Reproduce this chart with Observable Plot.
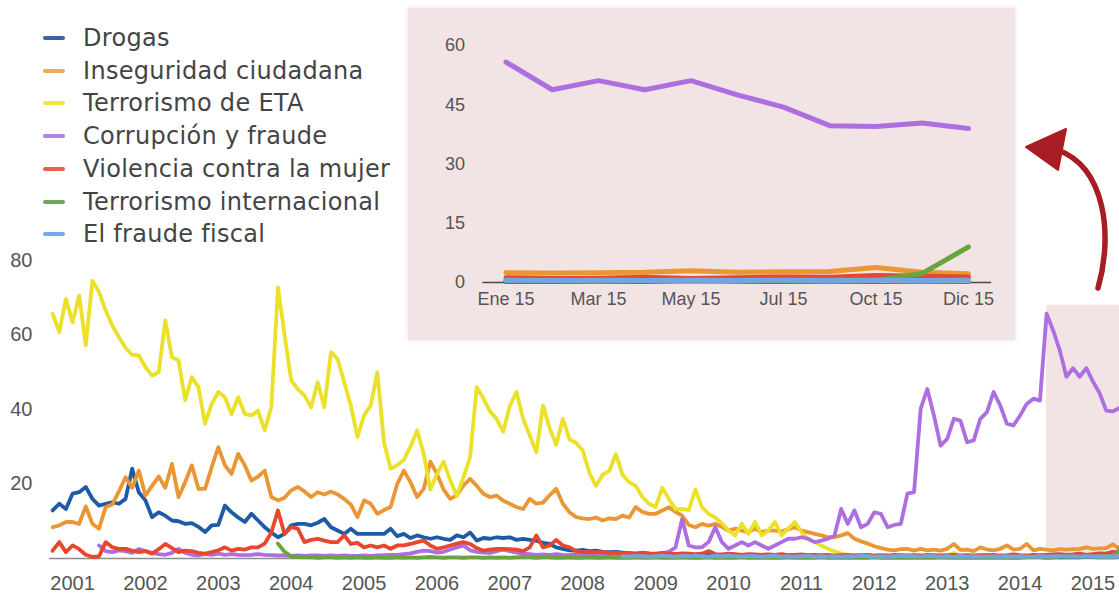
<!DOCTYPE html>
<html>
<head>
<meta charset="utf-8">
<script src="https://cdn.jsdelivr.net/npm/d3@7"></script>
<script src="https://cdn.jsdelivr.net/npm/@observablehq/plot@0.6"></script>
<style>
  html, body { margin: 0; padding: 0; background: #fff; overflow: hidden; width: 1119px; height: 596px; }
  #wrap { position: relative; width: 1119px; height: 596px; overflow: hidden; }
  #main { position: absolute; left: 0; top: 0; }
  #inset { position: absolute; left: 408px; top: 8px; width: 607px; height: 332px; box-shadow: 0 0 5px rgba(200,170,170,0.35); }
  #legend { position: absolute; left: 0; top: 0; font-family: "DejaVu Sans", "Liberation Sans", sans-serif; font-size: 24px; color: #444; }
  .item { position: absolute; left: 43px; height: 30px; line-height: 30px; white-space: nowrap; }
  .sw { position: absolute; left: 0; top: 13px; width: 22px; height: 4px; border-radius: 2px; }
  .lb { position: absolute; left: 40px; top: 0; letter-spacing: 0.3px; }
  #arrow { position: absolute; left: 0; top: 0; pointer-events: none; }
</style>
</head>
<body>
<div id="wrap">
  <div id="main"></div>
  <div id="inset"></div>
  <div id="legend"></div>
  <svg id="arrow" width="1119" height="596"></svg>
</div>
<script>
// Meses del barómetro (sin agosto)
const meses = ["Ene","Feb","Mar","Abr","May","Jun","Jul","Sep","Oct","Nov","Dic"];
const anios = [2001,2002,2003,2004,2005,2006,2007,2008,2009,2010,2011,2012,2013,2014,2015];
const series = ["Drogas","Inseguridad ciudadana","Terrorismo de ETA","Corrupción y fraude","Violencia contra la mujer","Terrorismo internacional","El fraude fiscal"];
const colores = ["#1f5aa6","#ea9633","#ebe12a","#ad6ee0","#e8472d","#67a63c","#72a5e3"];
const coloresLeyenda = ["#3a63a6","#f2ac55","#f0e640","#b382e6","#e95f47","#6ea860","#7aa7e6"];
const inicio = ["Mar 2001","Mar 2001","Mar 2001","Nov 2001","Mar 2001","Abr 2004","Ene 2009"];

const drogas = [
  12.9,14.7,13.3,17.4,17.8,19.2,16.0,14.2,14.7,
  15.1,14.7,16.0,24.1,17.8,15.6,11.1,12.4,11.5,10.2,10.0,
  9.3,9.5,8.5,7.1,8.9,9.0,14.2,12.4,11.0,9.8,12.0,
  10.2,8.4,7.0,5.7,6.6,8.9,9.3,9.3,8.9,9.6,10.6,
  8.4,7.5,6.6,8.0,6.6,6.6,6.6,6.6,6.6,8.0,6.0,
  6.6,5.5,6.2,5.7,5.3,5.7,5.3,5.0,6.2,5.7,7.0,
  4.8,5.5,5.3,5.7,5.5,5.7,5.0,5.3,5.0,4.8,4.2,
  3.9,3.0,2.6,2.2,2.1,2.3,2.0,2.1,1.8,1.7,1.8,
  1.6,1.4,1.3,1.5,1.3,1.2,1.3,1.1,1.2,1.0,1.1,
  1.0,0.9,1.1,0.9,1.0,0.8,0.9,0.8,1.0,0.8,0.9,
  0.8,0.9,0.7,0.8,0.8,0.7,0.8,0.7,0.7,0.8,0.6,
  0.7,0.6,0.7,0.6,0.6,0.5,0.6,0.5,0.6,0.5,0.5,
  0.5,0.6,0.5,0.4,0.5,0.6,0.5,0.4,0.5,0.5,0.4,
  0.5,0.4,0.5,0.4,0.3,0.4,0.5,0.4,0.4,0.3,0.4,
  0.3,0.3,0.4,0.3,0.5,0.4,0.3,0.4,0.3,0.4,0.3
];
const inseguridad = [
  8.4,8.9,9.8,9.8,9.3,14.0,9.3,8.0,13.8,
  14.5,18.0,21.8,19.0,23.6,16.9,19.5,22.0,19.0,25.4,16.5,
  20.5,25.0,18.7,18.7,24.5,29.9,25.0,22.7,28.1,25.0,20.9,
  22.0,23.6,16.5,15.6,16.3,18.3,19.2,18.0,16.5,17.8,17.2,
  18.0,17.2,16.0,14.5,11.1,15.6,14.7,12.0,13.0,13.8,20.0,
  23.6,20.5,16.5,18.7,26.0,22.7,18.5,16.0,17.0,19.6,21.4,
  19.5,17.4,16.5,16.9,15.5,14.7,13.8,13.3,16.0,14.7,15.0,
  17.0,18.7,14.7,12.4,11.1,10.8,10.6,11.0,10.2,10.8,10.6,
  11.5,11.0,13.8,12.5,12.0,12.0,12.9,13.8,12.5,11.5,9.0,
  8.4,9.3,8.8,9.3,8.5,7.5,8.0,7.5,7.1,8.0,7.1,
  7.5,7.5,7.3,7.8,8.4,7.5,7.1,6.6,6.2,5.7,5.7,
  6.2,6.8,5.3,4.6,4.0,3.3,2.8,2.4,2.2,2.5,2.6,
  2.1,2.6,2.2,2.4,2.1,2.6,3.9,2.3,2.4,2.0,3.0,
  2.4,2.2,2.6,3.5,2.4,2.6,3.9,2.2,2.6,2.4,2.2,
  2.5,2.4,2.5,2.6,3.0,2.6,2.7,2.8,3.8,2.6,2.2
];
const eta = [
  65.7,60.8,69.7,63.4,70.6,57.2,74.6,71.5,66.6,
  62.6,59.4,56.5,54.7,54.5,51.4,49.1,50.0,63.9,54.0,53.2,
  42.5,48.7,46.0,36.2,41.5,44.7,43.3,38.8,43.3,38.8,38.4,
  39.7,34.4,40.6,72.8,60.0,47.8,45.5,43.8,40.6,47.3,40.6,
  55.4,53.6,47.3,41.1,32.6,38.4,41.1,50.0,31.2,24.1,25.0,
  26.5,30.0,34.4,28.1,18.5,22.7,26.0,21.0,16.8,21.8,27.2,
  46.0,43.0,39.5,37.5,34.0,41.0,44.7,37.5,33.0,28.5,41.1,
  35.0,30.5,37.5,32.0,31.0,29.0,23.0,19.5,22.5,23.5,28.0,
  22.5,20.5,19.5,16.5,14.7,13.8,19.0,16.0,13.2,13.3,13.0,
  18.5,13.8,12.0,11.0,9.5,7.5,6.2,9.3,6.6,9.8,6.2,
  7.5,9.8,6.2,8.0,9.8,7.1,5.2,4.4,3.5,2.6,1.9,
  1.3,1.0,0.9,0.8,0.8,0.7,0.7,0.6,0.6,0.6,0.5,
  0.6,0.5,0.5,0.5,0.6,0.8,1.5,0.5,0.5,0.4,0.5,
  0.4,0.5,0.4,0.4,0.5,0.4,0.4,0.5,0.4,0.4,0.3,
  0.8,0.6,0.7,0.6,0.8,0.6,0.5,0.6,0.5,0.6,0.5
];
const corrupcion = [
  3.5,2.0,
  1.7,2.2,2.0,1.5,2.5,2.0,1.5,1.2,1.0,1.5,2.6,
  1.5,1.0,0.8,1.2,1.0,1.3,1.0,1.2,1.0,0.9,1.0,
  1.2,1.0,0.9,0.8,0.8,0.7,0.8,0.7,0.8,0.8,0.7,
  0.8,0.7,0.8,0.7,0.7,0.8,0.7,0.8,0.9,1.0,1.0,
  1.2,1.4,1.8,2.1,2.0,1.6,1.8,2.4,3.0,3.5,2.2,
  1.8,1.6,1.5,2.0,2.4,2.0,1.6,1.3,1.2,1.0,1.1,
  1.0,1.2,1.0,0.9,1.1,1.0,0.9,1.0,1.1,1.0,1.2,
  1.0,1.2,1.1,1.3,1.2,1.0,1.4,1.8,3.0,10.6,3.5,
  3.0,3.0,4.4,8.4,4.4,2.6,3.5,4.4,3.5,4.4,3.5,
  2.6,3.5,4.4,5.3,5.3,5.7,5.3,4.4,4.8,5.3,6.2,
  13.3,9.3,12.9,8.4,9.3,12.4,12.0,8.4,9.0,9.3,17.4,
  17.8,40.2,45.5,38.4,30.3,32.1,37.5,37.0,31.2,31.7,37.5,
  39.3,44.7,41.1,36.2,35.7,38.4,41.5,42.9,42.4,65.7,61.2,
  55.8,48.8,51.1,48.8,51.1,47.5,44.4,39.7,39.5,40.4,39.0
];
const violencia = [
  2.1,4.4,1.7,3.5,2.5,1.0,0.4,0.6,4.4,
  3.0,2.6,2.6,2.1,1.7,2.0,1.3,2.5,3.9,2.8,1.7,
  2.1,2.0,1.5,1.3,1.7,2.2,3.0,2.1,2.6,2.4,3.0,
  3.0,4.0,7.0,12.9,6.6,8.4,8.0,4.4,5.0,5.3,4.8,
  4.4,4.4,6.2,3.9,4.2,3.0,3.5,3.0,3.5,2.6,3.5,
  3.5,3.9,4.4,4.8,3.5,2.6,3.0,3.5,4.0,4.4,3.9,
  2.8,2.1,2.4,2.6,2.6,2.5,2.4,2.0,3.0,6.2,3.0,
  3.5,5.0,3.5,3.0,2.0,1.7,1.8,1.7,1.7,1.5,1.6,
  1.4,1.5,1.3,1.6,1.4,1.3,1.5,1.3,1.2,1.4,1.3,
  1.2,1.3,2.0,1.2,1.1,1.3,1.2,1.0,1.2,1.1,1.0,
  1.1,1.0,1.2,0.9,1.0,1.1,0.9,1.0,0.9,1.0,0.8,
  0.9,1.0,0.8,0.9,1.0,0.8,0.9,0.8,1.0,0.9,0.8,
  0.9,0.8,1.0,0.9,0.8,0.9,1.0,0.8,0.9,0.8,0.9,
  0.9,1.0,0.8,0.9,1.1,0.9,0.8,1.0,0.9,1.0,1.1,
  1.2,1.0,1.1,1.3,1.0,1.2,1.4,1.3,1.8,1.6,1.4
];
const terrorismoInt = [
  4.0,1.8,0.6,0.4,0.3,0.3,0.2,0.3,
  0.3,0.2,0.3,0.2,0.3,0.2,0.2,0.3,0.2,0.2,0.3,
  0.2,0.3,0.2,0.3,0.4,0.3,0.2,0.3,0.3,0.2,0.3,
  0.3,0.2,0.3,0.2,0.3,0.2,0.3,0.4,0.3,0.2,0.3,
  0.3,0.2,0.2,0.3,0.2,0.2,0.3,0.2,0.2,0.3,0.2,
  0.2,0.2,0.3,0.2,0.2,0.3,0.2,0.2,0.2,0.3,0.2,
  0.2,0.2,0.3,0.2,0.2,0.2,0.2,0.3,0.2,0.2,0.2,
  0.2,0.2,0.2,0.3,0.2,0.2,0.2,0.2,0.3,0.2,0.2,
  0.2,0.2,0.2,0.2,0.2,0.3,0.2,0.2,0.2,0.2,0.2,
  0.2,0.2,0.2,0.2,0.3,0.2,0.2,0.2,0.2,0.2,0.2,
  0.2,0.2,0.2,0.2,0.2,0.2,0.3,0.4,0.3,0.2,0.3,
  0.5,0.6,0.5,0.5,0.6,0.5,0.5,0.6,0.6,2.3,9.0
];
const fraudeFiscal = [
  0.6,0.5,0.7,0.6,0.5,0.6,0.8,0.6,0.5,0.7,0.6,
  0.8,0.6,0.5,0.7,0.6,0.8,0.6,0.5,0.7,0.6,0.5,
  0.6,0.7,0.5,0.6,0.5,0.6,0.7,0.5,0.6,0.5,0.6,
  0.5,0.6,0.5,0.7,0.6,0.5,0.6,0.5,0.6,0.7,0.6,
  0.6,0.5,0.7,0.6,0.5,0.6,0.5,0.6,0.5,0.6,0.5,
  0.5,0.6,0.5,0.6,0.5,0.6,0.5,0.5,0.6,0.5,0.6,
  0.6,0.5,0.6,0.5,0.6,0.5,0.6,0.5,0.6,0.5,0.6
];
const valores = [drogas, inseguridad, eta, corrupcion, violencia, terrorismoInt, fraudeFiscal];

// Recuadro destacado (2015) y ampliación
const destacado = {desde: "Nov 2014", hasta: "Dic 2015", tope: 68};
const etiquetasInset = ["Ene 15","Mar 15","May 15","Jul 15","Oct 15","Dic 15"];
const ticksInsetY = [0, 15, 30, 45, 60];
const ticksMainY = [20, 40, 60, 80];

function indice(etq) {
  const [m, y] = etq.split(" ");
  return (+y - anios[0]) * meses.length + meses.indexOf(m);
}

const filas = [];
series.forEach((s, k) => {
  const i0 = indice(inicio[k]);
  valores[k].forEach((v, j) => {
    const i = i0 + j;
    filas.push({serie: s, i, anio: anios[0] + Math.floor(i / meses.length), mes: i % meses.length, v});
  });
});

const fin = indice("Dic 2015");

// ---------- Gráfico principal ----------
const main = Plot.plot({
  width: 1119, height: 596,
  marginLeft: 38.9, marginRight: 0, marginTop: 260, marginBottom: 38,
  x: {domain: [0, fin], range: [38.9, 1125.6], label: null},
  y: {domain: [0, 80], range: [558, 260], label: null},
  color: {domain: series, range: colores},
  style: {background: "transparent", fontFamily: "'Liberation Sans', Arial, sans-serif", fontSize: "20px", color: "#555", overflow: "hidden"},
  marks: [
    Plot.rect([destacado], {x1: d => indice(d.desde), x2: d => indice(d.hasta) + 2, y1: 0, y2: d => d.tope, fill: "#f2e3e4"}),
    Plot.ruleY([0], {x1: 1.5, x2: fin + 2, stroke: "#8c8c8c", strokeWidth: 1.5}),
    Plot.line(filas, {x: "i", y: "v", z: "serie", stroke: "serie", strokeWidth: 3.8, strokeLinejoin: "round", strokeLinecap: "round"}),
    Plot.axisY({ticks: ticksMainY, tickSize: 0, tickPadding: 7, fill: "#555", label: null}),
    Plot.axisX({ticks: anios.map(y => indice("Jun " + y)), tickFormat: i => String(anios[0] + Math.floor(i / meses.length)), tickSize: 0, tickPadding: 17, fill: "#555", label: null})
  ]
});
document.getElementById("main").appendChild(main);

// ---------- Ampliación 2015 ----------
const filas2015 = filas.filter(d => d.anio === 2015);
const inset = Plot.plot({
  width: 607, height: 332,
  marginLeft: 97.5, marginRight: 47, marginTop: 37, marginBottom: 58,
  x: {domain: [0, meses.length - 1], label: null},
  y: {domain: [0, 60], label: null},
  color: {domain: series, range: colores},
  style: {background: "#f2e3e4", fontFamily: "'Liberation Sans Narrow', 'Arial Narrow', 'Liberation Sans', sans-serif", fontSize: "18px", color: "#555"},
  marks: [
    Plot.ruleY([0], {x1: -0.5, x2: meses.length - 0.5, stroke: "#4a4a4a", strokeWidth: 1.5}),
    Plot.line(filas2015, {x: "mes", y: "v", z: "serie", stroke: "serie", strokeWidth: 5, strokeLinejoin: "round"}),
    Plot.axisY({ticks: ticksInsetY, tickSize: 0, tickPadding: 41, fill: "#555", label: null}),
    Plot.axisX({ticks: etiquetasInset.map(e => meses.indexOf(e.split(" ")[0])), tickFormat: i => etiquetasInset.find(e => meses.indexOf(e.split(" ")[0]) === i), tickSize: 0, tickPadding: 10, fill: "#555", label: null})
  ]
});
document.getElementById("inset").appendChild(inset);

// ---------- Leyenda ----------
const leg = d3.select("#legend");
series.forEach((s, k) => {
  const it = leg.append("div").attr("class", "item").style("top", (23 + k * 32.7) + "px");
  it.append("span").attr("class", "sw").style("background", coloresLeyenda[k]);
  it.append("span").attr("class", "lb").text(s);
});

// ---------- Flecha de anotación ----------
const flecha = {trazo: "M1098,288 C1113,236 1106,168 1058,150", punta: "M1026,147 L1066,129 L1058,170 Z", color: "#a81d23"};
const svgA = d3.select("#arrow");
svgA.append("path").attr("d", flecha.trazo).attr("fill", "none").attr("stroke", flecha.color).attr("stroke-width", 5.5).attr("stroke-linecap", "round");
svgA.append("path").attr("d", flecha.punta).attr("fill", flecha.color).attr("stroke", flecha.color).attr("stroke-width", 2).attr("stroke-linejoin", "round");
</script>
</body>
</html>
